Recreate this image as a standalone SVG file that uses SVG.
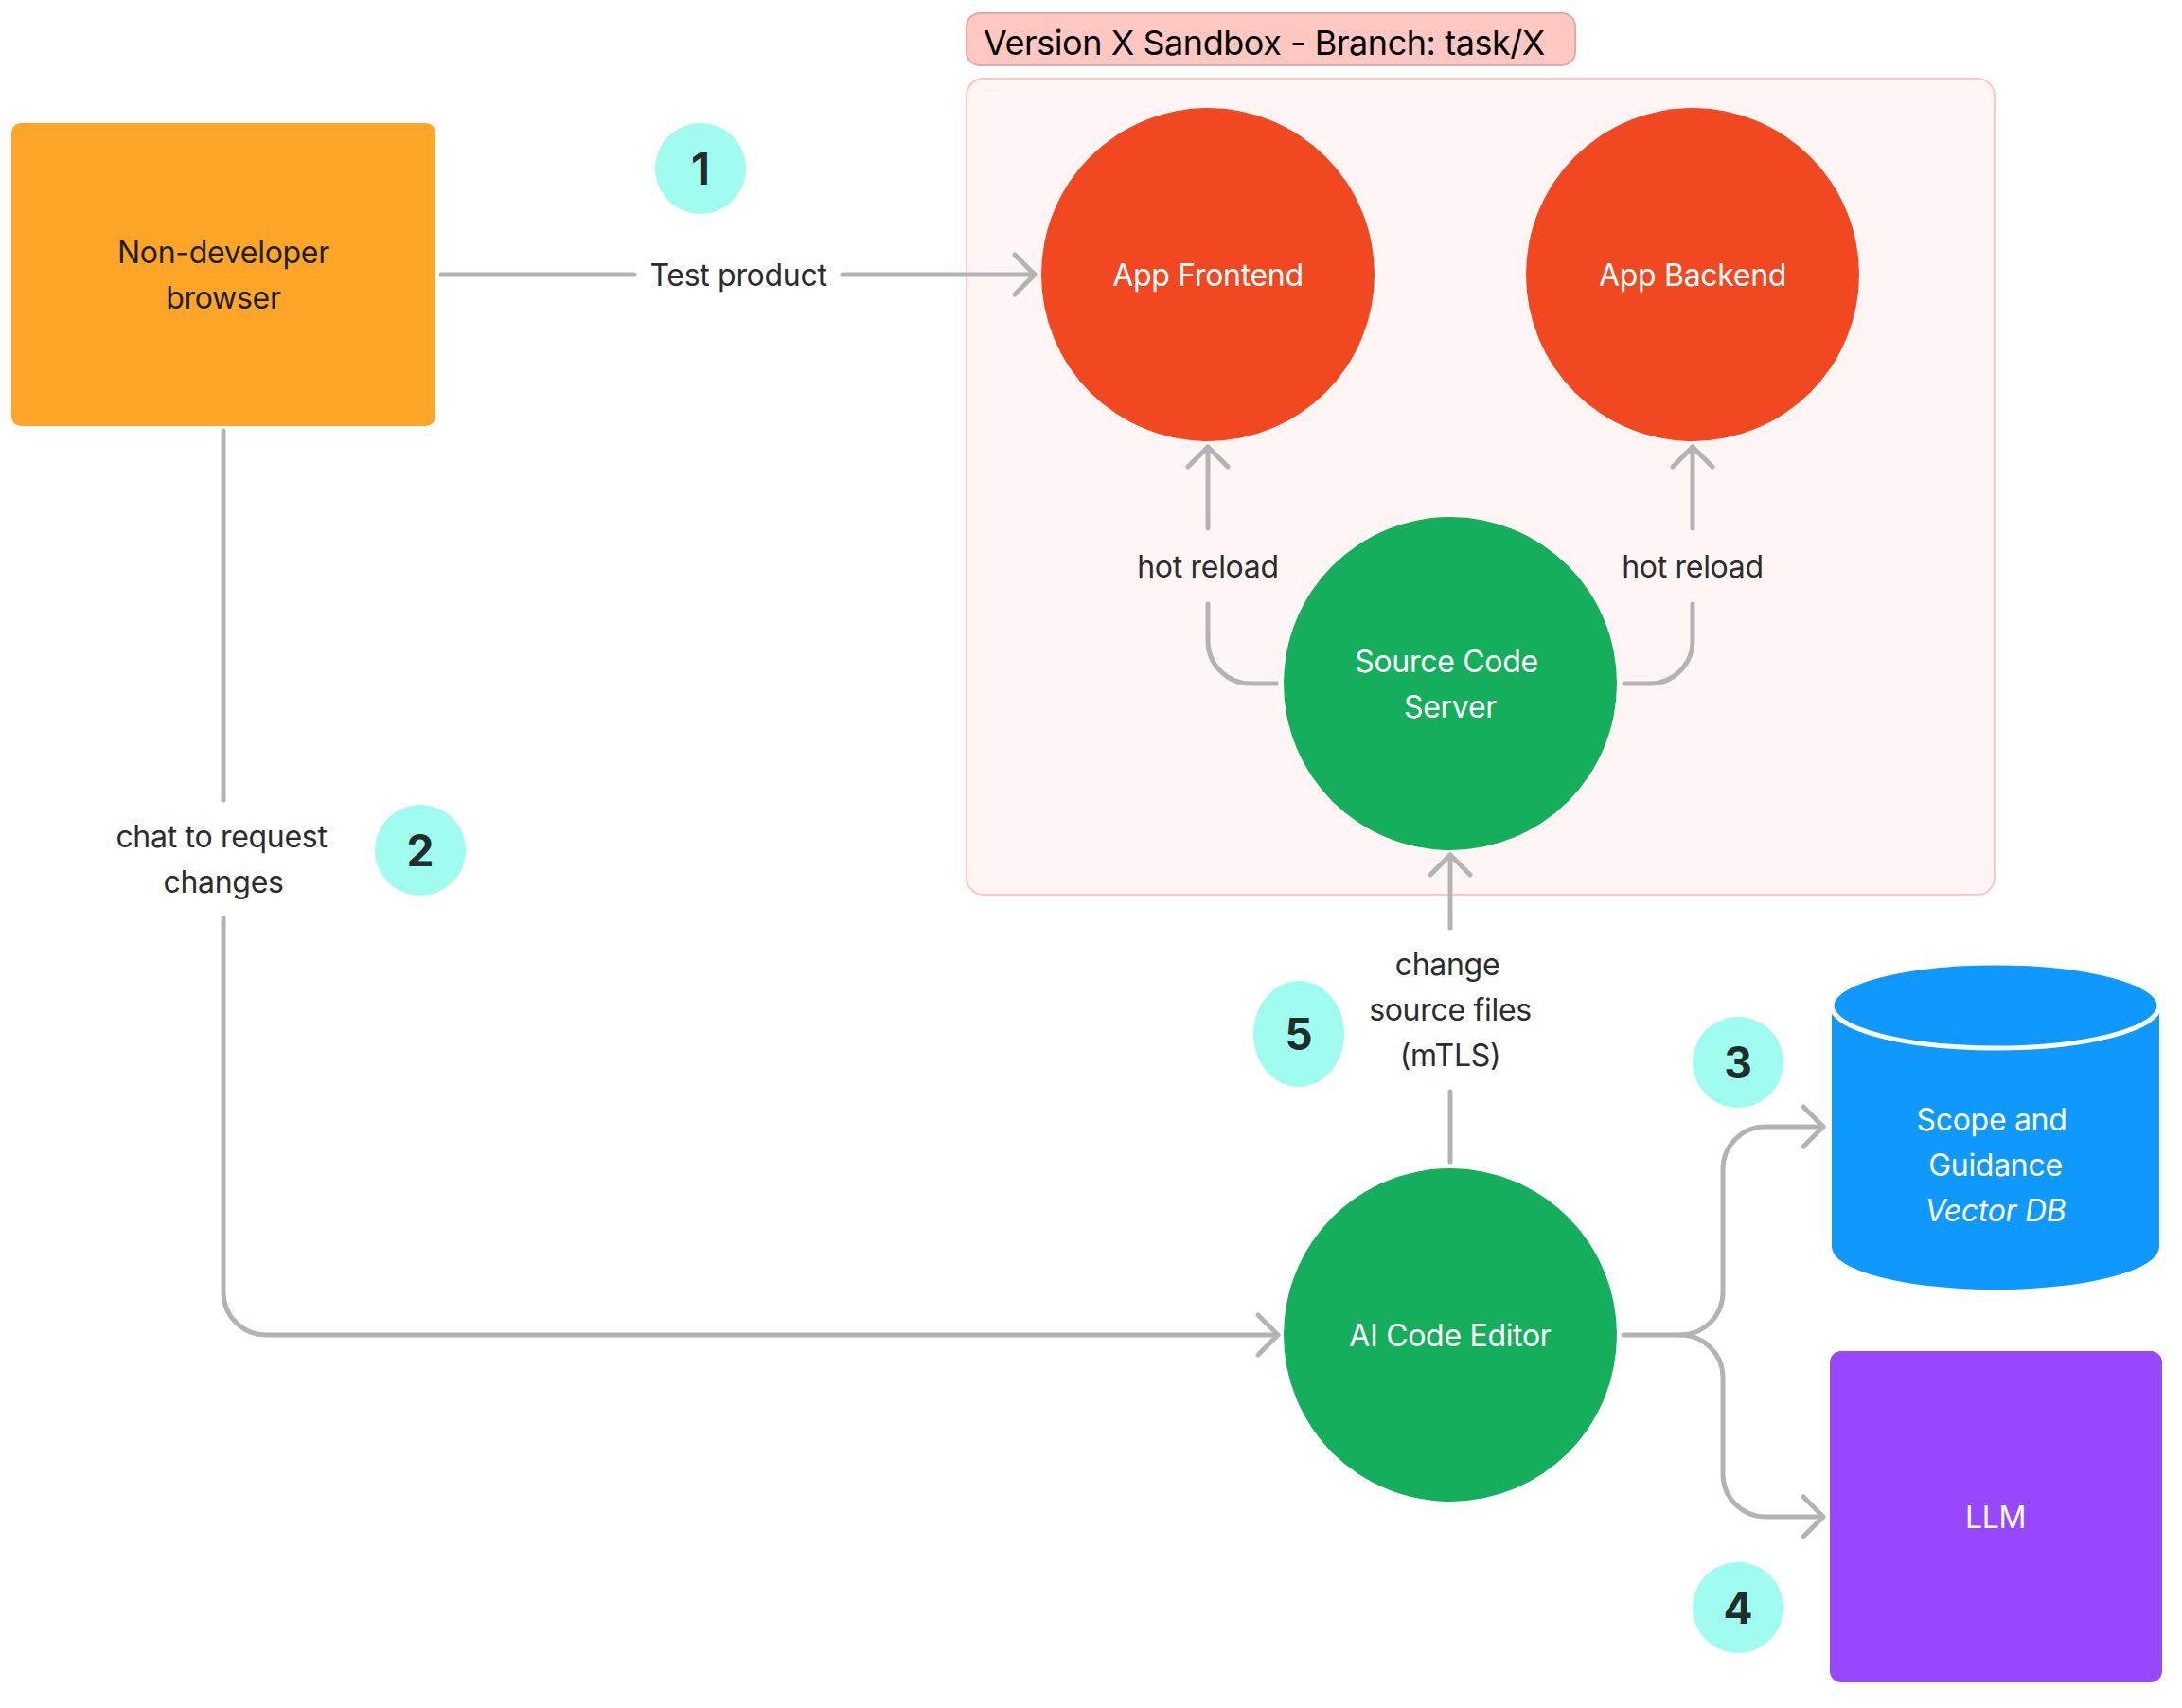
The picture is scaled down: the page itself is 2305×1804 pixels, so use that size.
<svg xmlns="http://www.w3.org/2000/svg" width="2305" height="1804" viewBox="0 0 2305 1804">
  <style>
    text { font-family: Inter, "Noto Sans", "Liberation Sans", sans-serif; font-size: 32px; text-anchor: middle; letter-spacing: -0.3px; }
    .label { fill: #2c2c2c; }
    .onnode { fill: #ffffff; }
    .dark { fill: #1e1e1e; }
    .badge { fill: #9ffcee; }
    .badge-num { font-size: 46px; font-weight: 700; fill: #1f2e2b; letter-spacing: 0; }
    .conn { fill: none; stroke: #b3b3b3; stroke-width: 5; stroke-linecap: round; stroke-linejoin: round; }
    .title { font-size: 36px; fill: #000000; text-anchor: start; letter-spacing: -0.45px; }
  </style>
  <defs>
    <marker id="arrow" viewBox="-25 -25 30 50" refX="0" refY="0" markerWidth="30" markerHeight="50" markerUnits="userSpaceOnUse" orient="auto" overflow="visible">
      <path d="M-21,-21 L0,0 L-21,21" fill="none" stroke="#b3b3b3" stroke-width="5" stroke-linecap="round" stroke-linejoin="round"/>
    </marker>
  </defs>

  <rect width="2305" height="1804" fill="#ffffff"/>

  <!-- Sandbox container -->
  <g id="sandbox">
    <rect x="1021" y="83" width="1086" height="862" rx="18" fill="#fff5f4" stroke="#ffc7c2" stroke-width="2"/>
    <rect x="1021" y="14" width="643" height="55" rx="14" fill="#ffc7c2" stroke="#e6aaa5" stroke-width="2"/>
    <text class="title" x="1039" y="58">Version X Sandbox - Branch: task/X</text>
  </g>

  <!-- Connectors -->
  <g id="connectors">
    <!-- browser to frontend -->
    <path class="conn" d="M466,290 H670"/>
    <path class="conn" d="M890,290 H1093" marker-end="url(#arrow)"/>
    <text class="label" x="780" y="301.5">Test product</text>

    <!-- browser to AI code editor -->
    <path class="conn" d="M236,455 V845"/>
    <path class="conn" d="M236,970 V1365 A45,45 0 0 0 281,1410 H1350" marker-end="url(#arrow)"/>
    <text class="label" x="234" y="895">chat to request</text>
    <text class="label" x="236" y="943">changes</text>

    <!-- hot reload to frontend -->
    <path class="conn" d="M1276,558 V472" marker-end="url(#arrow)"/>
    <path class="conn" d="M1276,638 V677 A45,45 0 0 0 1321,722 H1348"/>
    <text class="label" x="1276" y="609.5">hot reload</text>

    <!-- hot reload to backend -->
    <path class="conn" d="M1788,558 V472" marker-end="url(#arrow)"/>
    <path class="conn" d="M1788,638 V677 A45,45 0 0 1 1743,722 H1716"/>
    <text class="label" x="1788" y="609.5">hot reload</text>

    <!-- AI code editor to source code server -->
    <path class="conn" d="M1532,980 V903" marker-end="url(#arrow)"/>
    <path class="conn" d="M1532,1153 V1227"/>
    <text class="label" x="1529" y="1030">change</text>
    <text class="label" x="1532" y="1078">source files</text>
    <text class="label" x="1532" y="1126">(mTLS)</text>

    <!-- AI code editor to vector DB and LLM -->
    <path class="conn" d="M1715,1410 H1775 A45,45 0 0 0 1820,1365 V1235 A45,45 0 0 1 1865,1190 H1926" marker-end="url(#arrow)"/>
    <path class="conn" d="M1775,1410 A45,45 0 0 1 1820,1455 V1557 A45,45 0 0 0 1865,1602 H1926" marker-end="url(#arrow)"/>
  </g>

  <!-- Nodes -->
  <g id="browser">
    <rect x="12" y="130" width="448" height="320" rx="10" fill="#ffa629"/>
    <text class="dark" x="236" y="277.5">Non-developer</text>
    <text class="dark" x="236" y="325.5">browser</text>
  </g>

  <g id="app-frontend">
    <circle cx="1276" cy="290" r="176" fill="#f24822"/>
    <text class="onnode" x="1276" y="301.5">App Frontend</text>
  </g>

  <g id="app-backend">
    <circle cx="1788" cy="290" r="176" fill="#f24822"/>
    <text class="onnode" x="1788" y="301.5">App Backend</text>
  </g>

  <g id="source-code-server">
    <circle cx="1532" cy="722" r="176" fill="#14ae5c"/>
    <text class="onnode" x="1528" y="709.5">Source Code</text>
    <text class="onnode" x="1532" y="757.5">Server</text>
  </g>

  <g id="ai-code-editor">
    <circle cx="1532" cy="1410" r="176" fill="#14ae5c"/>
    <text class="onnode" x="1532" y="1421.5">AI Code Editor</text>
  </g>

  <g id="vector-db">
    <path d="M1935,1062 V1317 A173,45 0 0 0 2281,1317 V1062 Z" fill="#0f99ff"/>
    <ellipse cx="2108" cy="1062" rx="173" ry="45" fill="#0f99ff" stroke="#ffffff" stroke-width="5"/>
    <text class="onnode" x="2104" y="1193.5">Scope and</text>
    <text class="onnode" x="2108" y="1241.5">Guidance</text>
    <text class="onnode" x="2108" y="1289.5" font-style="italic">Vector DB</text>
  </g>

  <g id="llm">
    <rect x="1933" y="1427" width="351" height="350" rx="12" fill="#9747ff"/>
    <text class="onnode" x="2108" y="1613.5">LLM</text>
  </g>

  <!-- Step badges -->
  <g id="badge-1">
    <circle class="badge" cx="740" cy="178" r="48"/>
    <text class="badge-num" x="740" y="195">1</text>
  </g>
  <g id="badge-2">
    <circle class="badge" cx="444" cy="898" r="48"/>
    <text class="badge-num" x="444" y="915">2</text>
  </g>
  <g id="badge-3">
    <circle class="badge" cx="1836" cy="1122" r="48"/>
    <text class="badge-num" x="1836" y="1139">3</text>
  </g>
  <g id="badge-4">
    <circle class="badge" cx="1836" cy="1698" r="48"/>
    <text class="badge-num" x="1836" y="1715">4</text>
  </g>
  <g id="badge-5">
    <ellipse class="badge" cx="1372" cy="1092" rx="48" ry="56"/>
    <text class="badge-num" x="1372" y="1109">5</text>
  </g>
</svg>
